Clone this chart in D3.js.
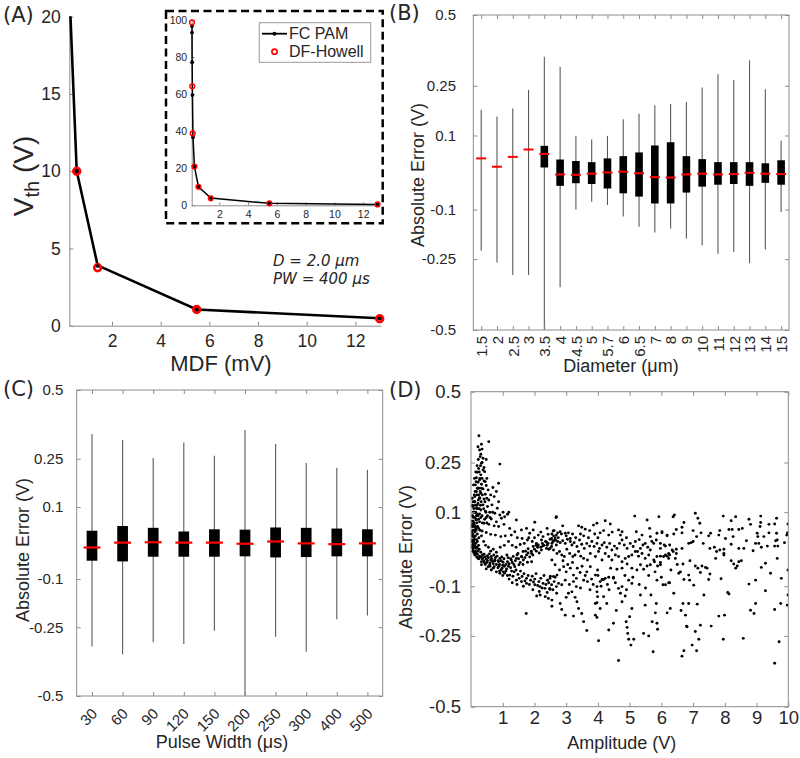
<!DOCTYPE html>
<html><head><meta charset="utf-8">
<script src="https://cdn.jsdelivr.net/npm/d3@7"></script>
<style>body{margin:0;background:#fff}svg{display:block}</style>
</head><body>
<svg id="c" width="800" height="758"></svg>
<script>
// ---------- DATA ----------
// Panel A
const fcMDF = [0.10, 0.10, 0.11, 0.13, 0.17, 0.27, 0.55, 1.41, 5.48, 13.0];
const fcVth = [96.8, 93.2, 77.2, 59.5, 36.7, 20.9, 10.0, 3.9, 1.05, 0.48];
const dfMDF = [0.10, 0.12, 0.15, 0.27, 0.55, 1.41, 5.48, 13.0];
const dfVth = [98.7, 64.2, 38.8, 20.9, 10.0, 3.75, 1.05, 0.45];
const aYTicks = [0, 5, 10, 15, 20];
const aXTicks = [2, 4, 6, 8, 10, 12];
const insetYTicks = [0, 20, 40, 60, 80, 100];

// Panel B (diameter)
const diamCats = ["1.5","2","2.5","3","3.5","4","4.5","5","5.7","6","6.5","7","8","9","10","11","12","13","14","15"];
const diamMax = [0.175, 0.155, 0.179, 0.237, 0.347, 0.313, 0.099, 0.089, 0.099, 0.147, 0.163, 0.189, 0.193, 0.200, 0.245, 0.288, 0.269, 0.335, 0.239, 0.085];
const diamQ3  = [0.037, 0.015, 0.041, 0.061, 0.071, 0.034, 0.030, 0.027, 0.037, 0.043, 0.053, 0.072, 0.081, 0.043, 0.035, 0.027, 0.027, 0.027, 0.024, 0.032];
const diamMed = [0.037, 0.015, 0.041, 0.061, 0.049, -0.005, -0.006, -0.003, 0.000, 0.002, -0.002, -0.012, -0.013, -0.005, -0.003, -0.005, -0.004, -0.001, -0.003, -0.004];
const diamQ1  = [0.037, 0.015, 0.041, 0.061, 0.013, -0.035, -0.028, -0.030, -0.042, -0.055, -0.064, -0.083, -0.083, -0.053, -0.037, -0.032, -0.030, -0.035, -0.027, -0.032];
const diamMin = [-0.223, -0.261, -0.302, -0.302, -0.600, -0.344, -0.100, -0.078, -0.087, -0.120, -0.150, -0.167, -0.155, -0.185, -0.207, -0.233, -0.227, -0.263, -0.219, -0.107];

// Panel C (pulse width)
const pwCats = ["30","60","90","120","150","200","250","300","400","500"];
const pwMax = [0.335, 0.314, 0.253, 0.305, 0.260, 0.349, 0.300, 0.236, 0.221, 0.214];
const pwQ3  = [0.033, 0.046, 0.041, 0.031, 0.037, 0.036, 0.042, 0.041, 0.039, 0.037];
const pwMed = [-0.012, 0.001, 0.002, 0.001, 0.001, -0.002, 0.004, -0.001, -0.003, -0.001];
const pwQ1  = [-0.048, -0.050, -0.037, -0.037, -0.037, -0.036, -0.039, -0.038, -0.036, -0.036];
const pwMin = [-0.316, -0.343, -0.301, -0.307, -0.262, -0.600, -0.282, -0.334, -0.224, -0.212];

const errTicks = [-0.5, -0.25, -0.1, 0.1, 0.25, 0.5];
const ampTicks = [1, 2, 3, 4, 5, 6, 7, 8, 9, 10];

// Panel D (amplitude, absolute error)
const scatterPts = [
[0.25,0.339],[0.56,0.319],[0.33,0.310],[0.22,0.302],[0.27,0.291],[0.35,0.294],[0.31,0.277],[0.38,0.264],[0.48,0.260],[0.29,0.269],[0.91,0.245],[0.33,0.248],[0.41,0.234],[0.24,0.231],[0.38,0.226],[0.20,0.219],[0.43,0.221],[0.31,0.211],[0.17,0.202],[0.35,0.200],[0.27,0.195],[0.22,0.188],[0.41,0.192],[0.14,0.180],[0.33,0.182],[0.48,0.178],[0.22,0.170],[0.38,0.168],[0.54,0.165],[0.69,0.172],[0.87,0.185],[0.17,0.160],[0.31,0.155],[0.45,0.152],[0.62,0.150],[0.80,0.160],[0.12,0.145],[0.27,0.142],[0.41,0.138],[0.56,0.135],[0.73,0.145],[0.87,0.130],[0.12,0.130],[0.22,0.125],[0.38,0.121],[0.52,0.116],[0.66,0.121],[0.83,0.111],[1.01,0.100],[1.15,0.094],[1.19,0.100],[0.06,0.116],[0.17,0.111],[0.31,0.106],[0.45,0.103],[0.59,0.100],[0.75,0.097],[0.91,0.092],[1.06,0.087],[0.09,0.100],[0.20,0.094],[0.35,0.090],[0.48,0.085],[0.64,0.081],[0.80,0.073],[0.96,0.083],[1.43,0.078],[2.01,0.072],[2.69,0.087],[0.06,0.087],[0.17,0.078],[0.27,0.073],[0.41,0.069],[0.56,0.066],[0.73,0.062],[0.87,0.060],[1.04,0.066],[1.22,0.055],[1.38,0.046],[1.59,0.051],[1.75,0.055],[1.85,0.042],[1.96,0.051],[2.12,0.037],[2.27,0.033],[2.43,0.039],[2.59,0.048],[2.69,0.037],[0.03,0.066],[0.14,0.060],[0.24,0.055],[0.35,0.048],[0.48,0.044],[0.62,0.039],[0.77,0.037],[0.94,0.033],[1.08,0.035],[1.27,0.037],[1.46,0.030],[1.61,0.028],[1.78,0.024],[1.93,0.020],[2.06,0.015],[2.22,0.024],[2.38,0.018],[2.54,0.028],[2.66,0.024],
[0.03,0.046],[0.06,0.033],[0.09,0.020],[0.12,0.009],[0.17,0.002],[0.22,-0.005],[0.31,-0.008],[0.41,-0.013],[0.52,-0.017],[0.64,-0.019],[0.77,-0.022],[0.91,-0.024],[1.04,-0.025],[1.17,-0.022],[1.33,-0.019],[1.48,-0.011],[1.64,-0.006],[1.80,0.001],[1.96,0.007],[2.12,0.011],[2.27,0.009],[2.43,0.015],[2.59,0.020],[0.03,0.024],[0.05,0.011],[0.07,0.001],[0.14,-0.006],[0.20,-0.013],[0.27,-0.018],[0.38,-0.022],[0.48,-0.026],[0.62,-0.028],[0.75,-0.031],[0.87,-0.033],[1.01,-0.034],[1.15,-0.033],[1.27,-0.028],[1.43,-0.024],[1.59,-0.019],[1.75,-0.015],[1.91,-0.011],[2.06,-0.005],[2.22,-0.002],[2.38,0.002],[2.54,0.007],[2.69,0.011],
[0.22,-0.024],[0.33,-0.033],[0.45,-0.040],[0.59,-0.041],[0.73,-0.046],[0.85,-0.049],[0.98,-0.050],[1.12,-0.052],[1.25,-0.049],[1.38,-0.046],[1.51,-0.041],[1.64,-0.040],[1.78,-0.034],[1.91,-0.033],[0.48,-0.052],[0.54,-0.046],[1.06,-0.064],[1.22,-0.069],[1.36,-0.060],[1.48,-0.067],[1.61,-0.073],[1.75,-0.078],[1.88,-0.083],[2.01,-0.080],[2.14,-0.087],[2.27,-0.092],[2.41,-0.083],[2.54,-0.096],[2.62,-0.087],[1.43,-0.083],[1.59,-0.087],[1.75,-0.092],[2.01,-0.096],[2.17,-0.101],[2.33,-0.106],[2.48,-0.106],[2.69,-0.101],[0.33,-0.041],[0.64,-0.055],[0.80,-0.060],[0.91,-0.064],
[0.04,0.14],[0.05,0.12],[0.07,0.10],[0.08,0.085],[0.04,0.075],[0.06,0.06],[0.09,0.05],[0.05,0.04],[0.10,0.03],[0.03,0.02],[0.08,0.015],[0.11,0.005],[0.13,-0.005],[0.16,-0.01],[0.10,0.065],[0.12,0.045],[0.14,0.035],[0.18,0.025],[0.15,0.055],[0.20,0.04],[0.25,0.03],[0.18,0.07],[0.22,0.09],[0.26,0.11],[0.13,0.16],[0.16,0.19],[0.20,0.17],[0.24,0.15],[0.28,0.14],[0.30,0.12],
[0.30,-0.02],[0.35,-0.025],[0.40,-0.03],[0.50,-0.035],[0.60,-0.036],[0.70,-0.038],[0.80,-0.04],[0.90,-0.04],[1.00,-0.042],[1.10,-0.04],[1.20,-0.038],[0.45,-0.02],[0.55,-0.022],[0.65,-0.025],[0.75,-0.028],[0.85,-0.03],[0.95,-0.03],[1.30,-0.035],[1.40,-0.03],[1.50,-0.025],[1.60,-0.02],[1.70,-0.022],[1.80,-0.01],[1.90,-0.005],[2.00,0.0],[2.10,0.005],[2.20,0.005],[2.30,0.01],[2.40,0.01],
[0.36,-0.015],[0.42,-0.035],[0.52,-0.03],[0.58,-0.012],[0.68,-0.032],[0.72,-0.015],[0.82,-0.018],[0.88,-0.045],[0.97,-0.02],[1.05,-0.045],[1.13,-0.015],[1.18,-0.045],[1.25,-0.025],[1.35,-0.04],[1.45,-0.015],[1.55,-0.035],[1.65,-0.028],[1.72,-0.005],[1.85,-0.02],[1.95,-0.015],[2.05,0.01],[2.15,-0.01],[2.25,0.015],[2.35,0.02],[2.45,0.0],[2.55,0.015],[2.65,0.03],[0.26,0.0],[0.19,0.005],[0.15,0.015],[0.11,0.025],[0.08,0.035],[0.06,0.05],[0.04,0.06],[0.05,0.09],[0.07,0.075],[0.09,0.11],[0.11,0.13],[0.15,0.10],[0.19,0.12],[0.23,0.135],[0.12,0.085],[0.16,0.08],[0.21,0.06],[0.28,0.05],[0.33,0.035],[0.40,0.02],[0.46,0.01],[0.55,0.005],[0.62,-0.005],[0.70,0.0],[0.80,-0.008],[0.92,0.005],[1.05,0.01],[1.18,0.02],[1.30,0.01],[1.42,0.005],[1.55,0.012],[1.68,0.015],[1.82,0.03],[2.00,0.03],[2.20,0.045],[2.40,0.055],[2.55,0.04],
[0.07,0.13],[0.10,0.15],[0.14,0.12],[0.18,0.15],[0.21,0.11],[0.25,0.17],[0.29,0.16],[0.32,0.13],[0.36,0.15],[0.40,0.11],[0.44,0.13],[0.47,0.10],[0.50,0.14],[0.13,0.10],[0.17,0.09],[0.24,0.08],[0.27,0.095],[0.31,0.085],[0.36,0.07],[0.43,0.08],[0.50,0.07],[0.52,0.09],[0.60,0.085],[0.68,0.10],[0.08,0.18],[0.11,0.20],[0.15,0.22],[0.19,0.24],[0.23,0.26],[0.26,0.22],[0.30,0.24],[0.35,0.25],[0.28,0.20],[0.33,0.17],[0.45,0.19],[0.50,0.20],[0.12,0.06],[0.16,0.05],[0.20,0.02],[0.24,0.01],[0.09,0.07],[0.03,0.035],[0.04,0.005],[0.06,-0.005],[0.09,-0.01],[0.12,-0.015],[0.18,-0.02],[0.25,-0.025],
[0.95,-0.055],[1.02,-0.06],[1.10,-0.058],[1.15,-0.07],[1.28,-0.058],[1.32,-0.072],[1.42,-0.055],[1.52,-0.078],[1.56,-0.058],[1.67,-0.065],[1.70,-0.085],[1.80,-0.07],[1.84,-0.095],[1.93,-0.072],[1.97,-0.088],[2.05,-0.065],[2.10,-0.098],[2.20,-0.078],[2.24,-0.105],[2.30,-0.07],[2.36,-0.095],[2.45,-0.09],[2.50,-0.072],[2.58,-0.11],[2.65,-0.075],[2.70,-0.12],[1.45,-0.095],[1.65,-0.10],[1.95,-0.11],[2.15,-0.115],[2.40,-0.118],[1.20,-0.08],[1.30,-0.09],[1.00,-0.07],[0.90,-0.058],[0.70,-0.05],[0.60,-0.045],
[2.90,-0.03],[3.05,-0.04],[3.20,-0.035],[3.35,-0.05],[3.50,-0.045],[3.60,-0.07],[3.80,-0.08],[3.85,-0.095],[4.00,-0.07],[4.10,-0.10],[4.30,-0.095],[4.40,-0.05],[4.55,-0.09],[4.85,-0.07],[5.10,-0.075],[5.30,-0.095],[5.60,-0.07],[5.80,-0.06],[6.00,-0.075],[3.10,-0.095],[3.45,-0.105],[3.75,-0.11],[4.35,-0.11],[4.90,-0.11],[5.50,-0.105],[6.30,-0.055],[6.50,-0.04],[6.90,-0.03],
[2.60,0.035],[2.75,0.03],[2.85,0.04],[3.00,0.035],[3.20,0.04],[3.30,0.03],[3.45,0.04],[3.55,0.035],[3.70,0.03],[3.90,0.04],[4.00,0.03],[4.45,0.045],[4.90,0.03],[5.30,0.025],[5.70,0.02],
[2.68,0.085],[5.16,0.089],[5.92,0.087],[5.55,0.078],[2.89,0.062],[4.23,0.076],[4.39,0.067],[3.39,0.062],[3.49,0.058],[3.60,0.053],[3.86,0.064],[3.97,0.069],[3.74,0.049],[2.62,0.049],[2.73,0.043],[2.81,0.046],[2.97,0.042],[3.07,0.043],[3.13,0.028],[4.07,0.043],[4.18,0.049],[4.34,0.037],[4.65,0.051],[4.76,0.046],[4.71,0.037],[5.21,0.046],[5.39,0.037],[5.63,0.055],[5.86,0.042],[6.02,0.046],[6.18,0.037],[5.65,0.033],
[2.49,0.026],[2.58,0.022],[2.65,0.024],[2.73,0.020],[2.81,0.017],[2.89,0.022],[2.97,0.015],[3.04,0.026],[3.13,0.020],[3.18,0.011],[3.25,0.017],[3.34,0.007],[3.42,0.024],[3.49,0.013],[3.57,0.002],[3.65,0.015],[3.74,0.008],[3.81,0.020],[3.88,0.007],[3.97,0.015],[4.05,0.002],[4.13,0.011],[4.20,0.017],[4.28,0.005],[4.37,0.015],[4.44,-0.002],[4.52,0.008],[4.60,0.002],[4.68,0.015],[4.76,0.024],[4.83,0.011],[4.92,0.002],[5.02,0.015],[5.11,0.007],[5.18,0.020],[5.25,-0.006],[5.34,0.002],[5.42,0.011],[5.49,0.015],[5.57,0.005],[5.65,-0.002],[5.76,0.015],[5.84,0.024],[5.97,0.002],[6.09,0.011],[6.23,-0.011],
[2.49,0.002],[2.60,-0.002],[2.71,-0.011],[2.79,-0.006],[2.86,-0.015],[2.94,-0.019],[3.02,0.000],[3.11,-0.011],[3.21,-0.019],[3.28,-0.015],[3.39,-0.006],[3.46,-0.018],[3.55,-0.024],[3.67,-0.028],[3.76,-0.011],[3.92,-0.019],[4.02,-0.006],[4.13,-0.028],[4.23,-0.011],[4.34,-0.019],[4.44,-0.028],[4.55,-0.015],[4.65,-0.019],[4.76,-0.033],[4.86,-0.024],[4.97,-0.019],[5.07,-0.015],[5.18,-0.006],[5.28,-0.018],[5.39,-0.011],[5.49,-0.024],[5.60,-0.015],[5.76,-0.028],[5.86,-0.019],[5.97,-0.041],[6.13,-0.015],[6.23,-0.024],
[2.55,-0.028],[2.65,-0.041],[2.79,-0.055],[2.92,-0.046],[3.00,-0.060],[3.13,-0.050],[3.23,-0.069],[3.32,-0.078],[3.44,-0.062],[3.55,-0.083],[3.65,-0.060],[3.76,-0.046],[3.92,-0.069],[3.99,-0.055],[4.13,-0.081],[4.23,-0.078],[4.34,-0.075],[4.49,-0.075],[4.60,-0.053],[4.76,-0.050],[4.92,-0.039],[5.07,-0.050],[5.23,-0.055],[5.34,-0.041],[5.44,-0.053],[5.55,-0.044],[5.65,-0.041],[5.78,-0.033],[5.88,-0.044],[5.97,-0.035],
[2.49,-0.078],[2.60,-0.073],[2.71,-0.069],[2.76,-0.092],[2.86,-0.096],[2.97,-0.083],[3.23,-0.087],[3.32,-0.101],[3.67,-0.087],[3.97,-0.101],[4.07,-0.087],[4.18,-0.081],[4.49,-0.078],[4.65,-0.106],[4.76,-0.101],[4.97,-0.083],[5.07,-0.092],[5.86,-0.083],[6.13,-0.096],[6.23,-0.090],[2.49,-0.109],
[6.41,0.092],[6.37,0.087],[7.07,0.097],[7.15,0.083],[7.21,0.069],[7.95,0.089],[8.20,0.076],[8.34,0.087],[8.76,0.080],[8.81,0.066],[9.13,0.089],[9.13,0.071],[9.39,0.066],[9.57,0.067],[9.63,0.083],[9.99,0.067],
[6.02,0.043],[6.18,0.035],[6.39,0.040],[6.47,0.052],[6.65,0.058],[6.65,0.043],[6.71,0.071],[7.00,0.049],[7.11,0.033],[7.25,0.043],[7.49,0.035],[7.55,0.042],[7.84,0.049],[7.81,0.037],[8.02,0.028],[8.13,0.052],[8.23,0.052],[8.26,0.033],[8.44,0.052],[8.55,0.055],[8.68,0.022],[9.02,0.042],[9.04,0.033],[9.11,0.060],[9.23,0.033],[9.39,0.043],[9.63,0.042],[9.65,0.024],[9.95,0.037],[9.97,0.043],
[5.97,0.015],[6.13,0.008],[6.26,0.011],[6.34,-0.002],[6.37,-0.006],[6.47,0.000],[6.65,0.002],[6.86,0.015],[6.94,0.017],[7.00,0.020],[7.32,0.015],[7.53,0.002],[7.67,0.005],[7.74,-0.006],[7.84,-0.002],[7.97,-0.011],[7.97,0.000],[8.20,0.013],[8.44,0.002],[8.60,0.002],[8.89,-0.004],[8.97,0.015],[9.07,0.015],[9.15,0.005],[9.34,0.008],[9.57,0.008],[9.67,0.008],[9.60,0.022],[9.88,0.017],
[5.97,-0.018],[6.07,-0.019],[6.18,-0.018],[6.26,-0.015],[6.44,-0.024],[6.47,-0.011],[7.71,-0.024],[7.97,-0.015],[8.20,-0.030],[8.28,-0.039],[8.34,-0.050],[8.39,-0.044],[8.44,-0.033],[8.52,-0.030],[9.15,-0.048],[9.28,-0.037],[9.65,-0.024],
[6.68,-0.039],[6.55,-0.064],[6.60,-0.060],[6.71,-0.081],[6.86,-0.069],[6.89,-0.083],[7.07,-0.044],[7.15,-0.050],[7.23,-0.062],[7.28,-0.044],[7.39,-0.048],[7.44,-0.050],[7.53,-0.066],[7.49,-0.081],[7.88,-0.079],[9.44,-0.064],[9.78,-0.078],[9.99,-0.055],
[6.05,-0.096],[6.26,-0.090],[7.02,-0.097],[8.76,-0.094],[8.97,-0.083],
[1.74,-0.180],[2.07,-0.128],[2.18,-0.125],[2.34,-0.130],[2.44,-0.135],[2.55,-0.140],[2.55,-0.158],[2.81,-0.150],[2.86,-0.168],[2.97,-0.185],[3.00,-0.132],[3.07,-0.120],[3.18,-0.116],[3.28,-0.132],[3.34,-0.145],[3.39,-0.165],[3.23,-0.188],[3.49,-0.180],[3.55,-0.205],[3.65,-0.233],[3.92,-0.150],[3.92,-0.185],[3.97,-0.192],[3.97,-0.148],[3.97,-0.116],[3.99,-0.130],[4.02,-0.266],[4.07,-0.165],[4.18,-0.130],[4.28,-0.150],[4.34,-0.231],[4.49,-0.210],[4.58,-0.171],[4.65,-0.332],[4.71,-0.120],[4.76,-0.145],[4.86,-0.128],[4.89,-0.205],[4.92,-0.223],[4.94,-0.242],[4.97,-0.261],[5.00,-0.190],[5.07,-0.165],[5.04,-0.280],[5.13,-0.261],[5.34,-0.125],[5.44,-0.242],[5.49,-0.155],[5.60,-0.250],[5.67,-0.125],[5.71,-0.205],[5.74,-0.302],[5.81,-0.178],[5.84,-0.150],[5.86,-0.210],[5.88,-0.229],[6.18,-0.178],[6.28,-0.165],[6.39,-0.120],[6.62,-0.171],[6.65,-0.317],[6.68,-0.150],[6.71,-0.299],[6.76,-0.185],[6.79,-0.219],[6.81,-0.221],[6.86,-0.150],[6.97,-0.280],[7.07,-0.236],[7.11,-0.299],[7.13,-0.152],[7.18,-0.261],[7.23,-0.216],[7.34,-0.125],[7.57,-0.219],[7.81,-0.188],[7.95,-0.261],[7.99,-0.185],[8.09,-0.118],[8.13,-0.122],[8.58,-0.258],[8.81,-0.170],[8.92,-0.180],[8.97,-0.150],[9.28,-0.113],[9.57,-0.168],[9.57,-0.341],[9.71,-0.269],[9.76,-0.150],[9.97,-0.155],[9.99,-0.125]
];

// ---------- STYLE ----------
const AX = "#8c8c8c", TX = "#262626";
const TF = "'Liberation Sans', Arial, Helvetica, sans-serif";
const LF = "'DejaVu Sans', sans-serif";
const svg = d3.select("#c");
svg.append("rect").attr("width",800).attr("height",758).attr("fill","#fff");

function styleAxis(g, fs) {
  g.attr("font-family", TF).attr("font-size", fs);
  g.selectAll(".tick line").attr("stroke", AX);
  g.select(".domain").attr("stroke", AX);
  g.selectAll("text").attr("fill", TX);
}
function addText(x, y, txt, opts = {}) {
  const t = svg.append("text").attr("x", x).attr("y", y).text(txt)
    .attr("font-family", opts.font || TF).attr("font-size", opts.size || 18)
    .attr("fill", opts.fill || TX).attr("text-anchor", opts.anchor || "middle");
  if (opts.rotate) t.attr("transform", `rotate(${opts.rotate},${x},${y})`);
  if (opts.italic) t.attr("font-style", "italic");
  if (opts.baseline) t.attr("dominant-baseline", opts.baseline);
  return t;
}

// ---------- PANEL A ----------
const fc = fcMDF.map((m, i) => ({m, v: fcVth[i]}));
const df = dfMDF.map((m, i) => ({m, v: dfVth[i]}));

const xA = d3.scaleLinear().domain([0.245, 13.05]).range([69.3, 380.9]);
const yA = d3.scaleLinear().domain([0, 20]).range([325.7, 16.7]);
svg.append("clipPath").attr("id", "clipA").append("rect").attr("x", 0).attr("y", 16.2).attr("width", 400).attr("height", 330);
const gA = svg.append("g");
const gAx = gA.append("g").attr("transform", "translate(69.3,0)")
  .call(d3.axisLeft(yA).tickValues(aYTicks).tickSize(-4).tickSizeOuter(0).tickPadding(8.5));
styleAxis(gAx, 17.5);
const gAxb = gA.append("g").attr("transform", "translate(0,325.7)")
  .call(d3.axisBottom(xA).tickValues(aXTicks).tickSize(-4).tickSizeOuter(0).tickPadding(9));
styleAxis(gAxb, 17.5);
const gAd = gA.append("g").attr("clip-path", "url(#clipA)");
gAd.append("path").datum(fc).attr("fill", "none").attr("stroke", "#000").attr("stroke-width", 2.6)
  .attr("d", d3.line().x(d => xA(d.m)).y(d => yA(d.v)));
gAd.selectAll("circle.fcd").data(fc).join("circle").attr("class", "fcd")
  .attr("cx", d => xA(d.m)).attr("cy", d => yA(d.v)).attr("r", 2.4).attr("fill", "#000");
gAd.selectAll("circle.dfc").data(df).join("circle").attr("class", "dfc")
  .attr("cx", d => xA(d.m)).attr("cy", d => yA(d.v)).attr("r", 3.4).attr("fill", "none")
  .attr("stroke", "#ff0000").attr("stroke-width", 2.6);
gAd.selectAll("circle.fcd2").data(fc).join("circle").attr("class", "fcd2")
  .attr("cx", d => xA(d.m)).attr("cy", d => yA(d.v)).attr("r", 1.5).attr("fill", "#000");

addText(33, 176, "", {rotate: -90, size: 28}).call(t => {
  t.append("tspan").text("V");
  t.append("tspan").attr("font-size", 20).attr("dy", 6).text("th");
  t.append("tspan").attr("dy", -6).text(" (V)");
});
addText(221, 371, "MDF (mV)", {size: 22});
addText(3, 22, "(A)", {font: LF, size: 21, anchor: "start"});
addText(273, 266, "D = 2.0 μm", {font: LF, size: 15, anchor: "start", italic: true});
addText(273, 284, "PW = 400 μs", {font: LF, size: 15, anchor: "start", italic: true});

// Inset
svg.append("rect").attr("x", 166).attr("y", 11).attr("width", 216.7).attr("height", 212.3)
  .attr("fill", "#fff").attr("stroke", "#000").attr("stroke-width", 2.5).attr("stroke-dasharray", "8,4.5");
const xI = d3.scaleLinear().domain([0.08, 13.1]).range([191.7, 379]);
const yI = d3.scaleLinear().domain([0, 100]).range([205.3, 20]);
const gI = svg.append("g");
const gIy = gI.append("g").attr("transform", "translate(191.7,0)")
  .call(d3.axisLeft(yI).tickValues(insetYTicks).tickSize(-3).tickSizeOuter(0).tickPadding(4.5));
styleAxis(gIy, 10.5);
const gIx = gI.append("g").attr("transform", "translate(0,205.3)")
  .call(d3.axisBottom(xI).tickValues(aXTicks).tickSize(-3).tickSizeOuter(0).tickPadding(5));
styleAxis(gIx, 10.5);
gI.append("path").datum(fc).attr("fill", "none").attr("stroke", "#000").attr("stroke-width", 1.5)
  .attr("d", d3.line().x(d => xI(d.m)).y(d => yI(d.v)));
gI.selectAll("circle.ifc").data(fc).join("circle").attr("class", "ifc")
  .attr("cx", d => xI(d.m)).attr("cy", d => yI(d.v)).attr("r", 1.9).attr("fill", "#000");
gI.selectAll("circle.idf").data(df).join("circle").attr("class", "idf")
  .attr("cx", d => xI(d.m)).attr("cy", d => yI(d.v)).attr("r", 2.4).attr("fill", "none")
  .attr("stroke", "#ff0000").attr("stroke-width", 1.4);
// legend
gI.append("rect").attr("x", 259.3).attr("y", 22.7).attr("width", 111.4).attr("height", 39.6)
  .attr("fill", "#fff").attr("stroke", "#999").attr("stroke-width", 1);
gI.append("line").attr("x1", 262).attr("x2", 287).attr("y1", 33.7).attr("y2", 33.7).attr("stroke", "#000").attr("stroke-width", 1.8);
gI.append("circle").attr("cx", 274.5).attr("cy", 33.7).attr("r", 2).attr("fill", "#000");
gI.append("circle").attr("cx", 274.5).attr("cy", 51.7).attr("r", 2.6).attr("fill", "none").attr("stroke", "#ff0000").attr("stroke-width", 1.6);
addText(289, 33.7, "FC PAM", {size: 16, anchor: "start", baseline: "central"});
addText(289, 51.7, "DF-Howell", {size: 16, anchor: "start", baseline: "central"});

// ---------- BOX PANELS ----------
function boxPanel(o) {
  const x = d3.scalePoint().domain(o.cats).range([o.x0, o.x1]).padding(0.5);
  const y = d3.scaleSymlog().constant(1).domain([-0.5, 0.5]).range([o.y1, o.y0]).clamp(true);
  const g = svg.append("g");
  const idx = o.cats.map((c, i) => i);
  g.selectAll("line.wh").data(idx).join("line").attr("class", "wh")
    .attr("x1", i => x(o.cats[i])).attr("x2", i => x(o.cats[i]))
    .attr("y1", i => y(o.mx[i])).attr("y2", i => y(o.mn[i]))
    .attr("stroke", "#5a5a5a").attr("stroke-width", 1.1);
  g.selectAll("rect.bx").data(idx).join("rect").attr("class", "bx")
    .attr("x", i => x(o.cats[i]) - o.bw / 2).attr("width", o.bw)
    .attr("y", i => y(o.q3[i])).attr("height", i => Math.max(0, y(o.q1[i]) - y(o.q3[i])))
    .attr("fill", "#000");
  g.selectAll("line.md").data(idx).join("line").attr("class", "md")
    .attr("x1", i => x(o.cats[i]) - o.mw / 2).attr("x2", i => x(o.cats[i]) + o.mw / 2)
    .attr("y1", i => y(o.md[i])).attr("y2", i => y(o.md[i]))
    .attr("stroke", "#ff0000").attr("stroke-width", o.ms);
  g.append("rect").attr("x", o.x0).attr("y", o.y0).attr("width", o.x1 - o.x0).attr("height", o.y1 - o.y0)
    .attr("fill", "none").attr("stroke", AX).attr("stroke-width", 1);
  const gl = g.append("g").attr("transform", `translate(${o.x0},0)`)
    .call(d3.axisLeft(y).tickValues(errTicks).tickFormat(d => String(d)).tickSize(-4).tickSizeOuter(0).tickPadding(o.ypad));
  styleAxis(gl, o.yfs); gl.select(".domain").remove();
  const gr = g.append("g").attr("transform", `translate(${o.x1},0)`)
    .call(d3.axisRight(y).tickValues(errTicks).tickFormat("").tickSize(-4).tickSizeOuter(0));
  styleAxis(gr, 10); gr.select(".domain").remove();
  const gt = g.append("g").attr("transform", `translate(0,${o.y0})`)
    .call(d3.axisTop(x).tickFormat("").tickSize(-4).tickSizeOuter(0));
  styleAxis(gt, 10); gt.select(".domain").remove();
  const gb = g.append("g").attr("transform", `translate(0,${o.y1})`)
    .call(d3.axisBottom(x).tickSize(-4).tickSizeOuter(0));
  styleAxis(gb, o.xfs); gb.select(".domain").remove();
  gb.selectAll("text").attr("y", 0).attr("x", 0).attr("dy", "0.35em").attr("text-anchor", "end")
    .attr("transform", o.xrot);
}

boxPanel({x0: 473.3, x1: 789, y0: 15, y1: 330, cats: diamCats,
  mx: diamMax, q3: diamQ3, md: diamMed, q1: diamQ1, mn: diamMin,
  bw: 7.6, mw: 10, ms: 2, ypad: 17.3, yfs: 15, xfs: 15, xrot: "translate(0,6) rotate(-90)"});
addText(418, 175, "Absolute Error (V)", {rotate: -90, size: 18, baseline: "central"});
addText(621, 372, "Diameter (μm)", {size: 18});
addText(389, 20, "(B)", {font: LF, size: 21, anchor: "start"});

boxPanel({x0: 76.7, x1: 382.7, y0: 390, y1: 696, cats: pwCats,
  mx: pwMax, q3: pwQ3, md: pwMed, q1: pwQ1, mn: pwMin,
  bw: 10.7, mw: 17, ms: 2.2, ypad: 13.4, yfs: 15, xfs: 15, xrot: "translate(2,15) rotate(-45)"});
addText(22.5, 550, "Absolute Error (V)", {rotate: -90, size: 18, baseline: "central"});
addText(222, 748, "Pulse Width (μs)", {size: 18});
addText(3, 396, "(C)", {font: LF, size: 21, anchor: "start"});

// ---------- PANEL D ----------
const xD = d3.scaleLinear().domain([0, 10]).range([471, 788.3]);
const yD = d3.scaleSymlog().constant(1).domain([-0.5, 0.5]).range([706.7, 391.7]);
const gD = svg.append("g");
svg.append("clipPath").attr("id", "clipD").append("rect").attr("x", 471).attr("y", 391.7).attr("width", 317.3).attr("height", 315);
gD.append("g").attr("clip-path", "url(#clipD)").selectAll("circle").data(scatterPts).join("circle")
  .attr("cx", d => xD(d[0])).attr("cy", d => yD(d[1])).attr("r", 1.45).attr("fill", "#000");
gD.append("rect").attr("x", 471).attr("y", 391.7).attr("width", 317.3).attr("height", 315)
  .attr("fill", "none").attr("stroke", AX).attr("stroke-width", 1);
const gDl = gD.append("g").attr("transform", "translate(471,0)")
  .call(d3.axisLeft(yD).tickValues(errTicks).tickFormat(d => String(d)).tickSize(-4).tickSizeOuter(0).tickPadding(10));
styleAxis(gDl, 18.5); gDl.select(".domain").remove();
const gDr = gD.append("g").attr("transform", "translate(788.3,0)")
  .call(d3.axisRight(yD).tickValues(errTicks).tickFormat("").tickSize(-4).tickSizeOuter(0));
styleAxis(gDr, 10); gDr.select(".domain").remove();
const gDt = gD.append("g").attr("transform", "translate(0,391.7)")
  .call(d3.axisTop(xD).tickValues(ampTicks).tickFormat("").tickSize(-4).tickSizeOuter(0));
styleAxis(gDt, 10); gDt.select(".domain").remove();
const gDb = gD.append("g").attr("transform", "translate(0,706.7)")
  .call(d3.axisBottom(xD).tickValues(ampTicks).tickSize(-4).tickSizeOuter(0).tickPadding(4));
styleAxis(gDb, 18.5); gDb.select(".domain").remove();
addText(406, 557, "Absolute Error (V)", {rotate: -90, size: 18, baseline: "central"});
addText(621.7, 749, "Amplitude (V)", {size: 18});
addText(389, 397, "(D)", {font: LF, size: 21, anchor: "start"});
</script>
</body></html>
